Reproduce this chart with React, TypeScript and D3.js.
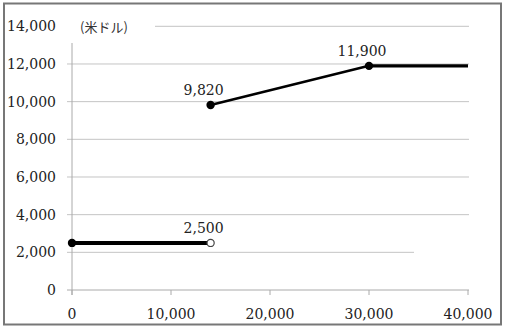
import React from "react";
import * as d3 from "d3";

const xTicks = [0, 10000, 20000, 30000, 40000];
const yTicks = [0, 2000, 4000, 6000, 8000, 10000, 12000, 14000];
const seg1 = [{ x: 0, y: 2500 }, { x: 14000, y: 2500 }];
const seg2 = [{ x: 14000, y: 9820 }, { x: 30000, y: 11900 }];
const seg3 = [{ x: 30000, y: 11900 }, { x: 40000, y: 11900 }];
const filledPoints = [{ x: 0, y: 2500 }, { x: 14000, y: 9820 }, { x: 30000, y: 11900 }];
const openPoints = [{ x: 14000, y: 2500 }];
const valueLabels = [
  { x: 14000, y: 2500, text: "2,500" },
  { x: 14000, y: 9820, text: "9,820" },
  { x: 30000, y: 11900, text: "11,900" },
];
const unitLabel = "(米ドル)";

export default function App() {
  const W = 505, H = 331;
  const x = d3.scaleLinear().domain([0, 40000]).range([72, 468]);
  const y = d3.scaleLinear().domain([0, 14000]).range([290, 26.3]);
  const line = d3.line<{ x: number; y: number }>().x(d => x(d.x)).y(d => y(d.y));
  const font = "DejaVu Serif";
  const fs = 14;
  const fmt = d3.format(",");
  return (
    <svg width={W} height={H} style={{ position: "absolute", left: 0, top: 0 }}>
      <rect x={0} y={0} width={W} height={H} fill="#fff" />
      <rect x={4} y={3.5} width={497} height={321} fill="none" stroke="#777" strokeWidth={2} />
      {yTicks.map(t => {
        if (t === 0) return null;
        const x0 = t === 14000 ? 155 : 67;
        const x1 = t === 2000 ? 414 : 469;
        return <line key={t} x1={x0} x2={x1} y1={y(t)} y2={y(t)} stroke="#c4c4c4" strokeWidth={1} />;
      })}
      <line x1={72} x2={72} y1={43} y2={295} stroke="#aaa" strokeWidth={1} />
      <line x1={67} x2={469} y1={y(0)} y2={y(0)} stroke="#aaa" strokeWidth={1} />
      {xTicks.map(t => (
        <line key={t} x1={x(t)} x2={x(t)} y1={y(0)} y2={y(0) + 5} stroke="#aaa" strokeWidth={1} />
      ))}
      <g fontFamily={font} fontSize={fs} fill="#222">
        {yTicks.map(t => (
          <text key={t} x={56} y={y(t)} dy="0.35em" textAnchor="end">
            {fmt(t)}
          </text>
        ))}
        {xTicks.map(t => (
          <text key={t} x={x(t)} y={319} textAnchor="middle">
            {fmt(t)}
          </text>
        ))}
        {valueLabels.map((l, i) => (
          <text key={i} x={x(l.x) - 7} y={y(l.y) - 10} textAnchor="middle">
            {l.text}
          </text>
        ))}
      </g>
      <text x={80} y={27} dy="0.35em" fontFamily="Noto Sans CJK JP" fontSize={13} fill="#333">
        {unitLabel}
      </text>
      <path d={line(seg1) || ""} fill="none" stroke="#000" strokeWidth={4} />
      <path d={line(seg2) || ""} fill="none" stroke="#000" strokeWidth={2.6} />
      <path d={line(seg3) || ""} fill="none" stroke="#000" strokeWidth={3.4} />
      {filledPoints.map((p, i) => (
        <circle key={i} cx={x(p.x)} cy={y(p.y)} r={4.2} fill="#000" />
      ))}
      {openPoints.map((p, i) => (
        <circle key={i} cx={x(p.x)} cy={y(p.y)} r={3.6} fill="#fff" stroke="#444" strokeWidth={1.2} />
      ))}
    </svg>
  );
}
